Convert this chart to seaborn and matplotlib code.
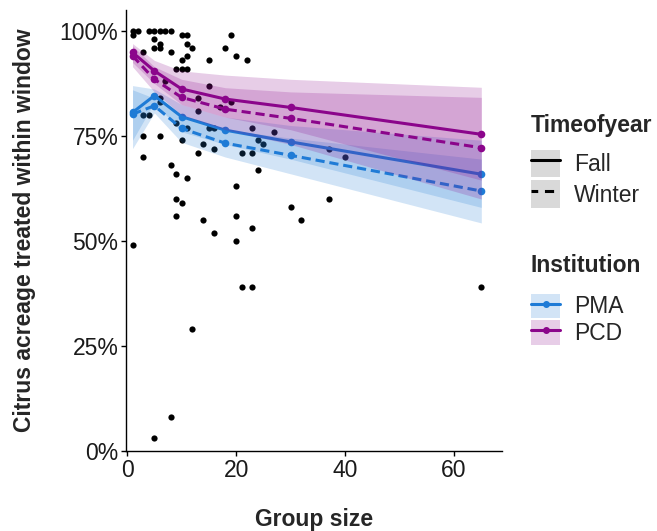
import numpy as np
import pandas as pd
import matplotlib
matplotlib.use("Agg")
import matplotlib.pyplot as plt
import seaborn as sns
from matplotlib.ticker import PercentFormatter
from matplotlib.lines import Line2D
from matplotlib.patches import Patch
from matplotlib.legend_handler import HandlerTuple

sns.set_theme(style="ticks")
plt.rcParams["font.family"] = ["Liberation Sans", "DejaVu Sans"]

# ---- raw observations (group size, % treated within window)
obs_x = [1, 2, 1, 4, 5, 6, 7, 8, 5, 6, 5, 6, 10, 11, 11, 12, 11, 10, 9, 10, 11, 8, 3,
         19, 18, 20, 22, 15, 15, 7, 6, 6, 13, 13, 17, 19, 3, 4, 9, 10, 11, 15, 16, 23,
         27, 3, 6, 10, 13, 14, 16, 24, 25, 21, 23, 3, 8, 9, 11, 24, 20, 9, 10, 9, 14,
         16, 20, 20, 23, 30, 32, 1, 21, 23, 12, 8, 5, 37, 40, 37, 65]
obs_y = [100, 100, 99, 100, 100, 100, 100, 100, 98, 97, 96, 96, 99, 99, 97, 96, 94, 93, 91,
         91, 91, 95, 95, 99, 96, 94, 93, 93, 87, 88, 84, 83, 84, 81, 82, 83, 80, 80, 78,
         77, 77, 77, 77, 77, 76, 75, 75, 74, 71, 73, 72, 74, 73, 71, 71, 70, 68, 66, 65,
         67, 63, 60, 59, 56, 55, 52, 56, 50, 53, 58, 55, 49, 39, 39, 29, 8, 3, 72, 70,
         60, 39]

# ---- model predictions
pred_x = [1, 5, 10, 18, 30, 65]
pma_fall = [80.6, 84.6, 79.6, 76.4, 73.6, 65.9]
pma_fall_lo = [74.0, 83.0, 76.0, 73.0, 69.5, 58.0]
pma_fall_hi = [87.0, 86.2, 82.5, 79.5, 77.5, 74.0]
pma_winter = [80.2, 82.2, 76.8, 73.3, 70.4, 61.9]
pma_winter_lo = [72.0, 80.5, 73.5, 70.0, 66.0, 54.3]
pma_winter_hi = [86.0, 84.0, 80.0, 76.5, 74.5, 69.5]
pcd_fall = [94.9, 90.5, 86.2, 83.8, 81.8, 75.4]
pcd_fall_lo = [92.5, 87.5, 82.5, 79.5, 76.5, 64.5]
pcd_fall_hi = [97.0, 93.0, 90.5, 89.5, 88.5, 86.6]
pcd_winter = [94.1, 88.5, 84.2, 81.4, 79.2, 72.2]
pcd_winter_lo = [91.5, 85.5, 80.0, 76.5, 73.0, 60.0]
pcd_winter_hi = [96.5, 91.5, 88.5, 86.5, 85.5, 84.2]

x_ticks = [0, 20, 40, 60]
y_ticks = [0, 25, 50, 75, 100]

BLUE = "#1E7BD6"
PURPLE = "#8B058B"
FS = 16.5

series = [
    ("PMA", "Fall", pma_fall, pma_fall_lo, pma_fall_hi),
    ("PMA", "Winter", pma_winter, pma_winter_lo, pma_winter_hi),
    ("PCD", "Fall", pcd_fall, pcd_fall_lo, pcd_fall_hi),
    ("PCD", "Winter", pcd_winter, pcd_winter_lo, pcd_winter_hi),
]
colors = {"PMA": BLUE, "PCD": PURPLE}

rows = []
for inst, tod, y, lo, hi in series:
    for xi, yi, l, h in zip(pred_x, y, lo, hi):
        rows.append(dict(Institution=inst, Timeofyear=tod, size=xi, pred=yi, lo=l, hi=h))
pred = pd.DataFrame(rows)
obs = pd.DataFrame(dict(size=obs_x, pct=obs_y))

fig = plt.figure(figsize=(6.57, 5.31), dpi=100)
ax = fig.add_axes([126 / 657, 1 - 451 / 531, (502 - 126) / 657, (451 - 10) / 531])

sns.scatterplot(data=obs, x="size", y="pct", color="black", s=20, linewidth=0, ax=ax, zorder=2)

lw = 2.2
z = 3
for inst in ["PMA", "PCD"]:
    sub_i = pred[pred.Institution == inst]
    for tod in ["Fall", "Winter"]:
        s = sub_i[sub_i.Timeofyear == tod]
        ax.fill_between(s["size"], s["lo"], s["hi"], color=colors[inst], alpha=0.2,
                        linewidth=0, zorder=z)
    for tod in ["Fall", "Winter"]:
        s = sub_i[sub_i.Timeofyear == tod]
        sns.lineplot(data=s, x="size", y="pred", color=colors[inst], linewidth=lw,
                     marker="o", markersize=5.5, markeredgewidth=0, ax=ax, zorder=z + 1,
                     dashes=False, legend=False,
                     linestyle="-" if tod == "Fall" else (0, (3, 1.6)))
    z += 2

ax.set_xlim(-0.2, 68.8)
ax.set_ylim(0, 105)
ax.set_xticks(x_ticks)
ax.set_yticks(y_ticks)
ax.yaxis.set_major_formatter(PercentFormatter(xmax=100, decimals=0))
for sp in ["top", "right"]:
    ax.spines[sp].set_visible(False)
for sp in ["left", "bottom"]:
    ax.spines[sp].set_color("black")
    ax.spines[sp].set_linewidth(1.0)
ax.tick_params(axis="both", direction="out", length=3.5, width=1.0, color="black",
               labelsize=FS, labelcolor="#1a1a1a", pad=2)
ax.set_xlabel("Group size", fontsize=FS, fontweight="bold", labelpad=19)
ax.set_ylabel("Citrus acreage treated within window", fontsize=FS, fontweight="bold",
              labelpad=17)

# ---- legends
grey = "#d9d9d9"
hm = {tuple: HandlerTuple(ndivide=1, pad=0)}
h_fall = (Patch(facecolor=grey, edgecolor="none"), Line2D([], [], color="black", lw=lw))
h_win = (Patch(facecolor=grey, edgecolor="none"),
         Line2D([], [], color="black", lw=lw, linestyle=(0.8, (3, 2.2))))
common = dict(loc="upper left", frameon=False, fontsize=FS, handler_map=hm,
              handlelength=1.27, handletextpad=0.6, borderpad=0, borderaxespad=0,
              title_fontproperties={"weight": "bold", "size": FS})
leg1 = fig.legend([h_fall, h_win], ["Fall", "Winter"], title="Timeofyear",
                  bbox_to_anchor=(531 / 657, 1 - 114 / 531),
                  handleheight=1.5, labelspacing=0.12, **common)
leg1._legend_box.align = "left"
leg1._legend_box.sep = 9

h_pma = (Patch(facecolor=BLUE, alpha=0.2, edgecolor="none"),
         Line2D([], [], color=BLUE, lw=lw, marker="o", markersize=4))
h_pcd = (Patch(facecolor=PURPLE, alpha=0.2, edgecolor="none"),
         Line2D([], [], color=PURPLE, lw=lw, marker="o", markersize=4))
leg2 = fig.legend([h_pma, h_pcd], ["PMA", "PCD"], title="Institution",
                  bbox_to_anchor=(531 / 657, 1 - 254 / 531),
                  handleheight=1.25, labelspacing=0.08, **common)
leg2._legend_box.align = "left"
leg2._legend_box.sep = 12

fig.savefig("out.png", dpi=100)
